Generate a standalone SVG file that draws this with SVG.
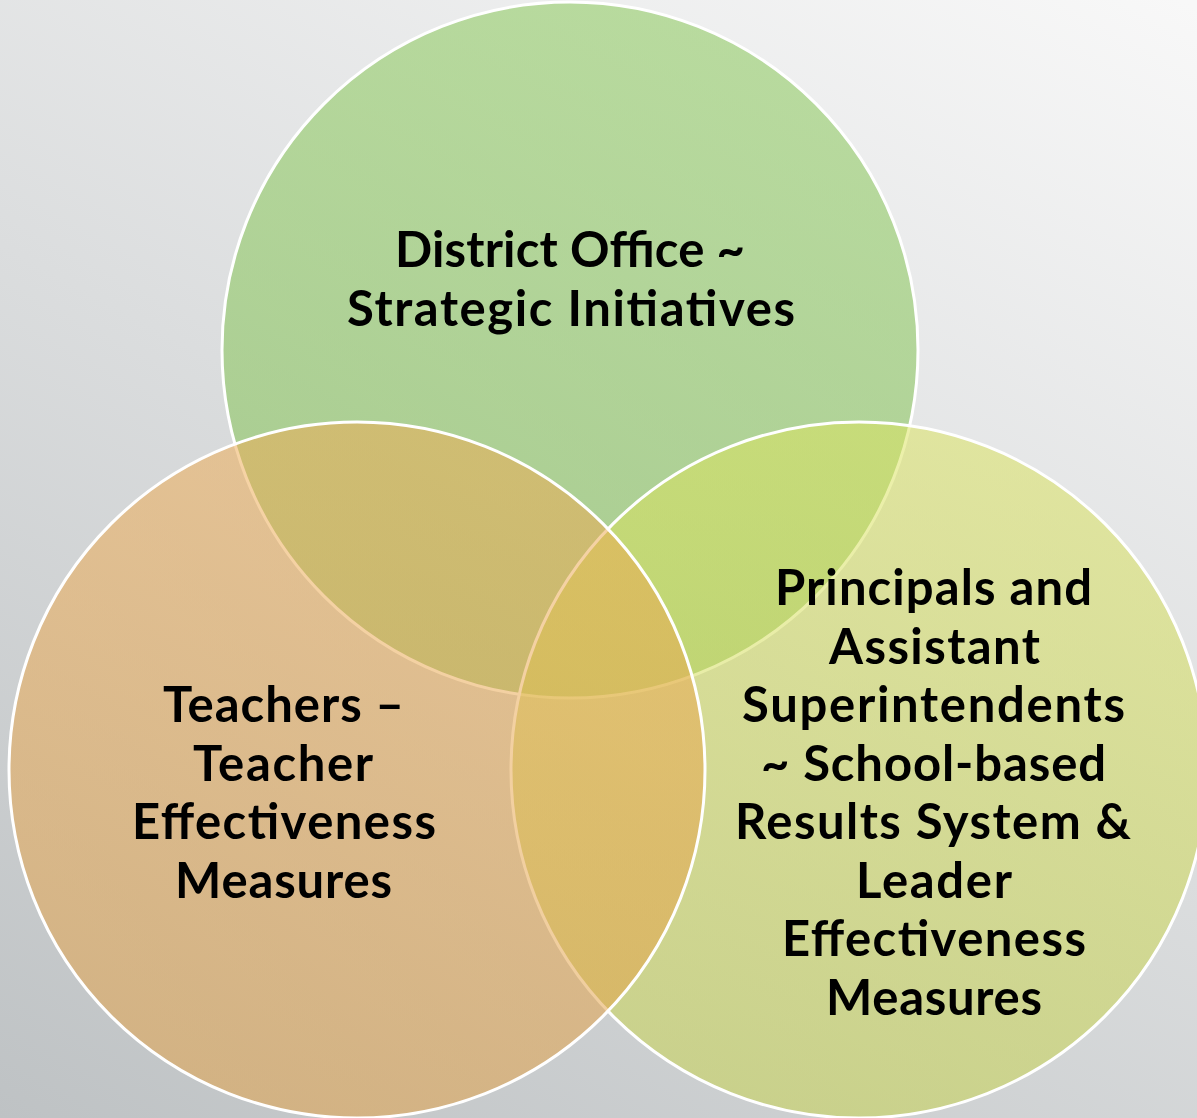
<svg xmlns="http://www.w3.org/2000/svg" width="1197" height="1118" viewBox="0 0 1197 1118">
  <defs>
    <!-- soft grey backdrop, light at the upper right, darker toward the lower left -->
    <linearGradient id="bg" gradientUnits="userSpaceOnUse" x1="0" y1="1118" x2="727" y2="-243">
      <stop offset="0" stop-color="#bec2c4"/>
      <stop offset="1" stop-color="#f8f8f8"/>
    </linearGradient>
    <!-- set fills deepen slightly toward the bottom -->
    <linearGradient id="fillGreen" x1="0" y1="0" x2="0" y2="1">
      <stop offset="0" stop-color="#88c856"/>
      <stop offset="1" stop-color="#80c050"/>
    </linearGradient>
    <linearGradient id="fillLime" x1="0" y1="0" x2="0" y2="1">
      <stop offset="0" stop-color="#dbe35f"/>
      <stop offset="1" stop-color="#c6d24e"/>
    </linearGradient>
    <linearGradient id="fillOrange" x1="0" y1="0" x2="0" y2="1">
      <stop offset="0" stop-color="#eeac55"/>
      <stop offset="1" stop-color="#e0a046"/>
    </linearGradient>
    <style>
      .set { stroke: #ffffff; stroke-width: 3; fill-opacity: 0.53; }
      .label { font-family: Lato, "Open Sans", "Liberation Sans", sans-serif; font-weight: 700; font-size: 49px; fill: #000000; text-anchor: middle; }
    </style>
  </defs>

  <rect x="0" y="0" width="1197" height="1118" fill="url(#bg)"/>

  <!-- no connectors in this diagram; sets overlap directly -->
  <g id="connectors"/>

  <g id="district-office">
    <circle class="set" cx="570" cy="350" r="348" fill="url(#fillGreen)"/>
    <text class="label" x="570" y="267" textLength="350">District Office ~</text>
    <text class="label" x="571" y="326" textLength="448">Strategic Initiatives</text>
  </g>

  <g id="principals">
    <circle class="set" cx="859" cy="770" r="348" fill="url(#fillLime)"/>
    <text class="label" x="933.5" y="605" textLength="317">Principals and</text>
    <text class="label" x="934.5" y="663.5" textLength="211">Assistant</text>
    <text class="label" x="933.5" y="722" textLength="383">Superintendents</text>
    <text class="label" x="933.5" y="780.5" textLength="345">~ School-based</text>
    <text class="label" x="933" y="839" textLength="396">Results System &amp;</text>
    <text class="label" x="934" y="897.5" textLength="156">Leader</text>
    <text class="label" x="934" y="956" textLength="304">Effectiveness</text>
    <text class="label" x="934" y="1014.5" textLength="216">Measures</text>
  </g>

  <g id="teachers">
    <circle class="set" cx="357" cy="770" r="348" fill="url(#fillOrange)"/>
    <text class="label" x="283.5" y="722" textLength="241">Teachers –</text>
    <text class="label" x="283" y="780.5" textLength="180">Teacher</text>
    <text class="label" x="284" y="839" textLength="304">Effectiveness</text>
    <text class="label" x="283.5" y="897.5" textLength="217">Measures</text>
  </g>
</svg>
